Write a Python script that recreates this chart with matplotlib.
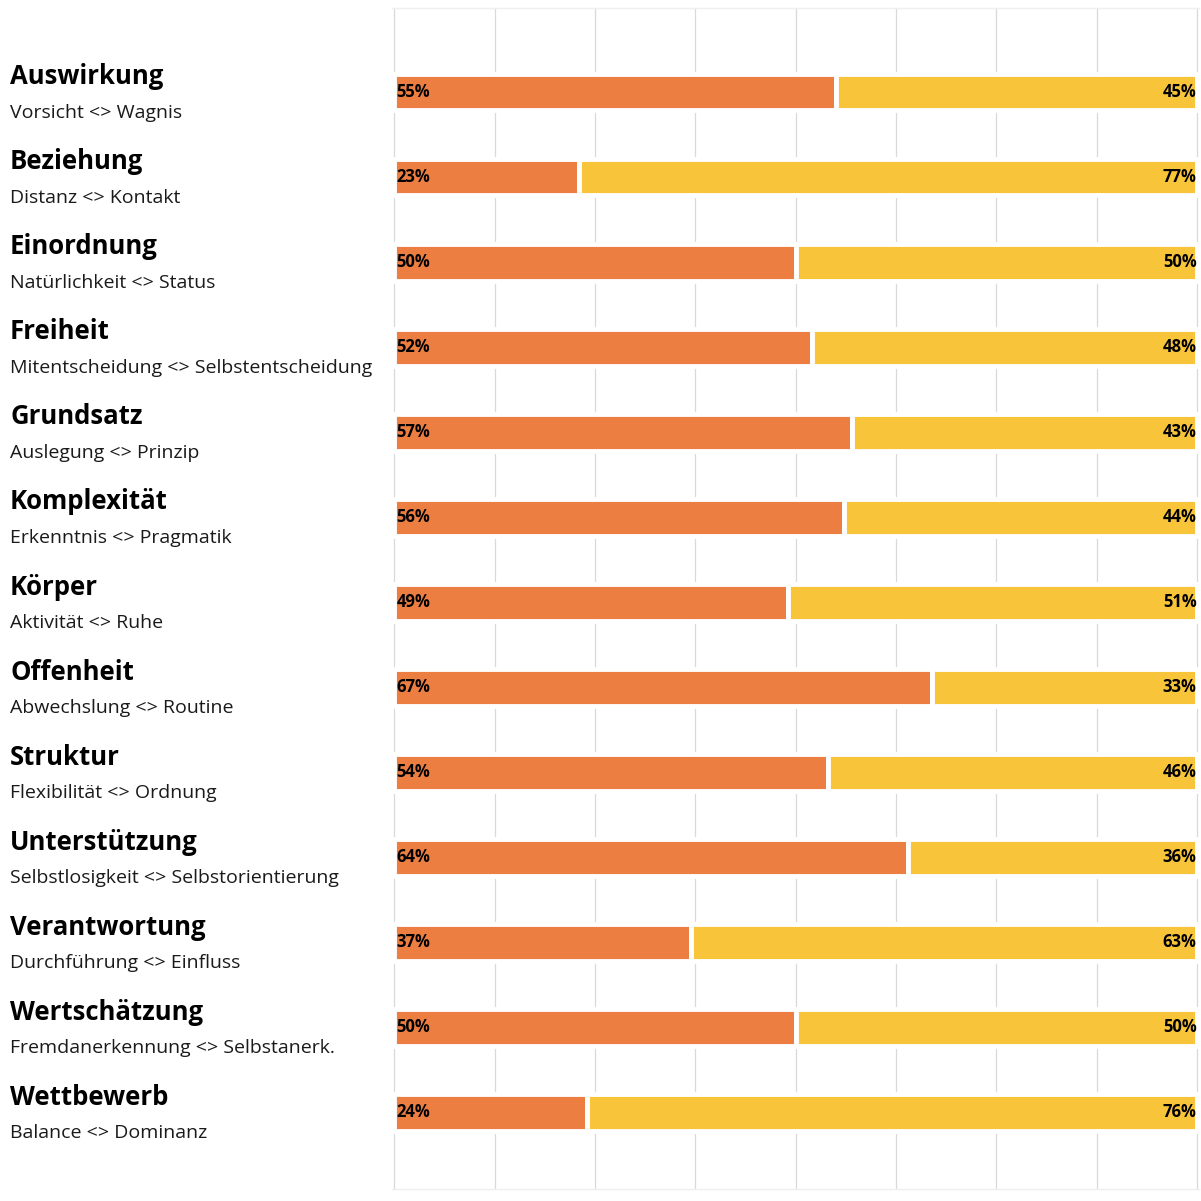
import matplotlib
matplotlib.use("Agg")
import matplotlib.pyplot as plt
import matplotlib.transforms as mtransforms

# dimensions with their two poles
dimensions = ["Auswirkung", "Beziehung", "Einordnung", "Freiheit", "Grundsatz",
              "Komplexität", "Körper", "Offenheit", "Struktur", "Unterstützung",
              "Verantwortung", "Wertschätzung", "Wettbewerb"]
poles = ["Vorsicht <> Wagnis", "Distanz <> Kontakt", "Natürlichkeit <> Status",
         "Mitentscheidung <> Selbstentscheidung", "Auslegung <> Prinzip",
         "Erkenntnis <> Pragmatik", "Aktivität <> Ruhe", "Abwechslung <> Routine",
         "Flexibilität <> Ordnung", "Selbstlosigkeit <> Selbstorientierung",
         "Durchführung <> Einfluss", "Fremdanerkennung <> Selbstanerk."]
poles.append("Balance <> Dominanz")
left_pct = [55, 23, 50, 52, 57, 56, 49, 67, 54, 64, 37, 50, 24]
right_pct = [45, 77, 50, 48, 43, 44, 51, 33, 46, 36, 63, 50, 76]

orange = "#EC7E41"
yellow = "#F8C43A"

plt.rcParams["font.family"] = ["Open Sans", "DejaVu Sans"]

fig = plt.figure(figsize=(12.01, 12.01), dpi=100)
ax = fig.add_axes([392 / 1201, 12 / 1201, 807 / 1201, 1181 / 1201])

rows = list(range(len(dimensions)))
ax.barh(rows, left_pct, height=0.43, color=orange, edgecolor="white", linewidth=3.5)
ax.barh(rows, right_pct, left=left_pct, height=0.43, color=yellow,
        edgecolor="white", linewidth=3.5)

ax.set_xlim(-0.3, 100.25)
ax.set_ylim(12.9, -0.99)
ax.set_xticks([i * 12.5 for i in range(9)])
ax.set_yticks([])
ax.tick_params(axis="x", length=0, labelbottom=False)
ax.grid(axis="x", color="#d9d9d9", linewidth=0.9)
ax.set_axisbelow(True)
for side in ["left", "right"]:
    ax.spines[side].set_visible(False)
for side in ["top", "bottom"]:
    ax.spines[side].set_color("#efefef")
    ax.spines[side].set_linewidth(1.0)

for i, (l, r) in enumerate(zip(left_pct, right_pct)):
    ax.text(0.25, i, f"{l}%", ha="left", va="center", fontsize=12,
            fontweight="bold", color="black")
    ax.text(99.95, i, f"{r}%", ha="right", va="center", fontsize=12,
            fontweight="bold", color="black")

# category titles in the left margin
trans = mtransforms.blended_transform_factory(fig.transFigure, ax.transData)
for i, (name, pole) in enumerate(zip(dimensions, poles)):
    ax.text(10 / 1201, i - 0.18, name, transform=trans, ha="left", va="center",
            fontsize=18.5, fontweight="bold", color="black", clip_on=False)
    ax.text(10 / 1201, i + 0.24, pole, transform=trans, ha="left", va="center",
            fontsize=14, color="#1a1a1a", clip_on=False)

fig.savefig("out.png", dpi=100, facecolor="white")
